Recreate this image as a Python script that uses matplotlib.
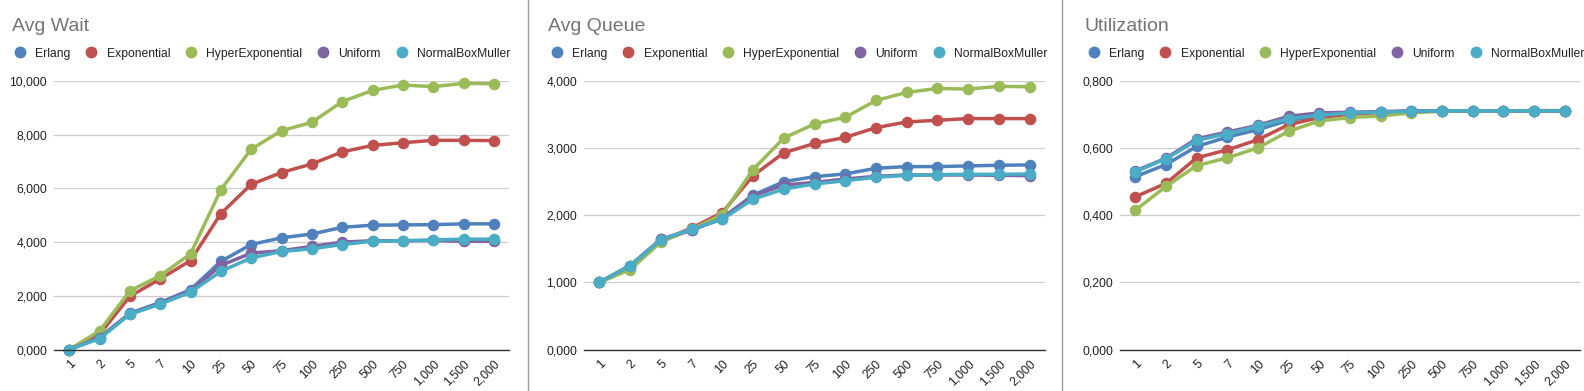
"""Three line charts: wait time, queue length and utilization per distribution."""

import matplotlib
matplotlib.use("Agg")
import matplotlib.pyplot as plt
from matplotlib.lines import Line2D
from matplotlib.ticker import FuncFormatter

plt.rcParams["font.family"] = ["Liberation Sans", "DejaVu Sans"]

categories = ["1", "2", "5", "7", "10", "25", "50", "75", "100", "250",
              "500", "750", "1,000", "1,500", "2,000"]
series_names = ["Erlang", "Exponential", "HyperExponential", "Uniform", "NormalBoxMuller"]
colors = ["#4F81BD", "#C0504D", "#9BBB59", "#8064A2", "#4BACC6"]

# Avg Wait
wait_erlang = [0.0, 0.44, 1.35, 1.75, 2.23, 3.28, 3.91, 4.16, 4.30, 4.55, 4.63, 4.64, 4.65, 4.68, 4.68]
wait_expo = [0.0, 0.56, 1.98, 2.63, 3.31, 5.06, 6.15, 6.59, 6.91, 7.36, 7.60, 7.70, 7.79, 7.79, 7.78]
wait_hyper = [0.0, 0.69, 2.18, 2.75, 3.56, 5.95, 7.46, 8.15, 8.46, 9.23, 9.65, 9.85, 9.79, 9.91, 9.90]
wait_uniform = [0.0, 0.44, 1.33, 1.72, 2.18, 3.13, 3.59, 3.68, 3.84, 4.00, 4.05, 4.05, 4.06, 4.03, 4.03]
wait_normal = [0.0, 0.40, 1.31, 1.69, 2.13, 2.91, 3.41, 3.65, 3.75, 3.91, 4.03, 4.05, 4.08, 4.11, 4.11]

# Avg Queue
queue_erlang = [1.0, 1.25, 1.64, 1.78, 1.96, 2.30, 2.50, 2.575, 2.615, 2.70, 2.725, 2.725, 2.735, 2.745, 2.75]
queue_expo = [1.0, 1.23, 1.62, 1.81, 2.04, 2.59, 2.93, 3.07, 3.16, 3.305, 3.39, 3.415, 3.44, 3.44, 3.44]
queue_hyper = [1.0, 1.19, 1.60, 1.79, 2.01, 2.68, 3.15, 3.36, 3.46, 3.71, 3.83, 3.89, 3.88, 3.92, 3.915]
queue_uniform = [1.0, 1.25, 1.64, 1.78, 1.95, 2.29, 2.45, 2.49, 2.54, 2.58, 2.60, 2.60, 2.60, 2.595, 2.59]
queue_normal = [1.0, 1.25, 1.635, 1.79, 1.94, 2.24, 2.39, 2.465, 2.515, 2.565, 2.595, 2.605, 2.61, 2.61, 2.615]

# Utilization
util_erlang = [0.515, 0.551, 0.605, 0.633, 0.655, 0.683, 0.696, 0.704, 0.707, 0.710, 0.711, 0.711, 0.711, 0.711, 0.711]
util_expo = [0.455, 0.495, 0.571, 0.595, 0.625, 0.670, 0.691, 0.701, 0.706, 0.709, 0.711, 0.711, 0.711, 0.711, 0.711]
util_hyper = [0.415, 0.486, 0.548, 0.571, 0.601, 0.650, 0.681, 0.691, 0.696, 0.705, 0.710, 0.711, 0.711, 0.712, 0.712]
util_uniform = [0.532, 0.570, 0.628, 0.648, 0.668, 0.695, 0.705, 0.707, 0.709, 0.711, 0.711, 0.711, 0.711, 0.711, 0.711]
util_normal = [0.530, 0.568, 0.623, 0.643, 0.665, 0.688, 0.698, 0.705, 0.707, 0.710, 0.711, 0.711, 0.711, 0.711, 0.711]

panels = [
    ("Avg Wait", [wait_erlang, wait_expo, wait_hyper, wait_uniform, wait_normal], 10, 2),
    ("Avg Queue", [queue_erlang, queue_expo, queue_hyper, queue_uniform, queue_normal], 4, 1),
    ("Utilization", [util_erlang, util_expo, util_hyper, util_uniform, util_normal], 0.8, 0.2),
]

W, H = 1584, 391
fig = plt.figure(figsize=(W / 100, H / 100), dpi=100)

# pixel layout of each panel: (axes left, axes right, title x, legend x)
layout = [(54, 509, 12, 15), (584, 1045, 548, 552), (1120, 1580, 1084, 1089)]
ax_top, ax_bottom = 81, 349.5


def comma_fmt(v, pos):
    return f"{v:.3f}".replace(".", ",")


for (title, data, ymax, step), (left, right, tx, lx) in zip(panels, layout):
    ax = fig.add_axes([left / W, 1 - ax_bottom / H, (right - left) / W, (ax_bottom - ax_top) / H])
    x = list(range(len(categories)))
    for vals, color in zip(data, colors):
        ax.plot(x, vals, color=color, linewidth=2.5, marker="o", markersize=7.3,
                solid_capstyle="round", clip_on=False)
    ax.set_xlim(-0.5, len(categories) - 0.5)
    ax.set_ylim(0, ymax)
    ticks = [i * step for i in range(int(round(ymax / step)) + 1)]
    ax.set_yticks(ticks)
    ax.yaxis.set_major_formatter(FuncFormatter(comma_fmt))
    ax.set_xticks(x)
    ax.set_xticklabels(categories, rotation=45, ha="right", rotation_mode="anchor")
    ax.tick_params(axis="both", length=0, labelsize=8.7, colors="#222222")
    ax.tick_params(axis="y", pad=5)
    ax.tick_params(axis="x", pad=6)
    ax.grid(axis="y", color="#cccccc", linewidth=0.9)
    ax.set_axisbelow(True)
    for side in ("left", "right", "top"):
        ax.spines[side].set_visible(False)
    ax.spines["bottom"].set_color("#333333")
    ax.spines["bottom"].set_linewidth(1.0)

    fig.text(tx / W, 1 - 31 / H, title, fontsize=14, color="#757575", va="baseline")

    handles = [Line2D([], [], marker="o", linestyle="none", color=c, markersize=7.5) for c in colors]
    fig.legend(handles, series_names, loc="center left", bbox_to_anchor=(lx / W, 1 - 53.6 / H),
               ncol=5, frameon=False, fontsize=8.7, handlelength=0.8, handletextpad=0.85,
               columnspacing=1.35, borderpad=0, borderaxespad=0, labelcolor="#222222")

# panel separators
for sx in (527.7, 1062):
    fig.add_artist(Line2D([sx / W, sx / W], [0, 1], color="#9e9e9e", linewidth=1.0))

fig.savefig("out.png", dpi=100)
